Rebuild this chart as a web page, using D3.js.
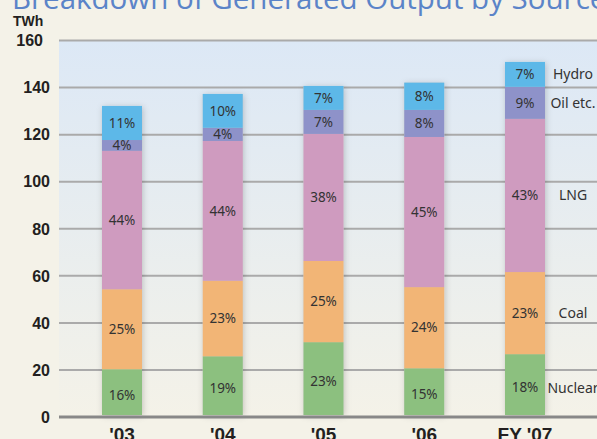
<!DOCTYPE html>
<html>
<head>
<meta charset="utf-8">
<script src="https://cdn.jsdelivr.net/npm/d3@7"></script>
<style>
  body { margin: 0; background: #f4f2e8; }
  svg { display: block; }
</style>
</head>
<body>
<svg id="chart" width="597" height="439"></svg>
<script>
var years = ["'03", "'04", "'05", "'06", "FY '07"];
var sources = ["Nuclear", "Coal", "LNG", "Oil etc.", "Hydro"];
var nuclear = [20.3, 25.8, 31.8, 20.7, 26.7];
var coal = [34.0, 32.1, 34.5, 34.5, 34.9];
var lng = [58.8, 59.4, 54.0, 63.8, 65.1];
var oil = [4.6, 5.6, 10.2, 11.5, 13.6];
var hydro = [14.5, 14.4, 10.2, 11.6, 10.6];
var nuclearPct = ["16%", "19%", "23%", "15%", "18%"];
var coalPct = ["25%", "23%", "25%", "24%", "23%"];
var lngPct = ["44%", "44%", "38%", "45%", "43%"];
var oilPct = ["4%", "4%", "7%", "8%", "9%"];
var hydroPct = ["11%", "10%", "7%", "8%", "7%"];
var yTicks = [0, 20, 40, 60, 80, 100, 120, 140, 160];

var colors = ["#8cc07f", "#f2b576", "#cf9bbf", "#8e92c9", "#5db8e8"];
var series = [nuclear, coal, lng, oil, hydro];
var pcts = [nuclearPct, coalPct, lngPct, oilPct, hydroPct];

var rows = years.map((yr, i) => {
    var r = { year: yr };
    sources.forEach((s, j) => { r[s] = series[j][i]; r[s + '_pct'] = pcts[j][i]; });
    return r;
});

var svg = d3.select('#chart');
var plotLeft = 59, plotRight = 597, plotTop = 40.5, plotBottom = 417;

var y = d3.scaleLinear().domain([0, 160]).range([plotBottom, plotTop]);
var x = d3.scalePoint().domain(years).range([122, 525]);
var barW = 40;

var defs = svg.append('defs');
var grad = defs.append('linearGradient')
    .attr('id', 'bg').attr('x1', 0).attr('y1', 0).attr('x2', 0).attr('y2', 1);
grad.append('stop').attr('offset', '0%').attr('stop-color', '#dce8f6');
grad.append('stop').attr('offset', '100%').attr('stop-color', '#f4f2e8');

var shadow = defs.append('filter').attr('id', 'shadow')
    .attr('x', '-30%').attr('y', '-10%').attr('width', '160%').attr('height', '120%');
shadow.append('feDropShadow')
    .attr('dx', 1).attr('dy', 1).attr('stdDeviation', 3)
    .attr('flood-color', '#000').attr('flood-opacity', 0.2);

// title (cut off at the top)
svg.append('text')
    .attr('x', 12).attr('y', 9)
    .style('font-family', 'Open Sans, sans-serif')
    .style('font-size', '29.5px')
    .attr('fill', '#5b84c8')
    .text('Breakdown of Generated Output by Source');

svg.append('rect')
    .attr('x', plotLeft).attr('y', plotTop)
    .attr('width', plotRight - plotLeft).attr('height', plotBottom - plotTop)
    .attr('fill', 'url(#bg)');

svg.append('g')
    .selectAll('line')
    .data(yTicks.filter(d => d > 0))
    .enter()
    .append('line')
        .attr('x1', plotLeft).attr('x2', plotRight)
        .attr('y1', d => y(d)).attr('y2', d => y(d))
        .attr('stroke', '#aaaaaa')
        .attr('stroke-width', 2);

var stack = d3.stack().keys(sources)(rows);

var layers = svg.append('g').attr('class', 'bars');

// shadow under whole bar
layers.selectAll('.bar-shadow')
    .data(rows)
    .enter()
    .append('rect')
        .attr('class', 'bar-shadow')
        .attr('x', d => x(d.year) - barW / 2)
        .attr('width', barW)
        .attr('y', d => y(d3.sum(sources, s => d[s])))
        .attr('height', d => plotBottom - 2 - y(d3.sum(sources, s => d[s])))
        .attr('fill', '#ccc')
        .attr('filter', 'url(#shadow)');

stack.forEach((layer, j) => {
    layers.append('g')
        .selectAll('rect')
        .data(layer)
        .enter()
        .append('rect')
            .attr('x', d => x(d.data.year) - barW / 2)
            .attr('width', barW)
            .attr('y', d => y(d[1]))
            .attr('height', d => y(d[0]) - y(d[1]) - (j === 0 ? 2 : 0))
            .attr('fill', colors[j]);

    layers.append('g')
        .selectAll('text')
        .data(layer)
        .enter()
        .append('text')
            .attr('x', d => x(d.data.year))
            .attr('y', d => (y(d[0]) + y(d[1])) / 2 + (j === 0 ? 2 : 0))
            .attr('dy', '0.35em')
            .style('text-anchor', 'middle')
            .style('font-family', 'Noto Sans, sans-serif')
            .style('font-size', '13.5px')
            .attr('fill', '#333')
            .text(d => d.data[sources[j] + '_pct']);

    // legend next to the last bar
    var last = layer[layer.length - 1];
    svg.append('text')
        .attr('x', 573)
        .attr('y', (y(last[0]) + y(last[1])) / 2 + (j === 0 ? 3 : 0))
        .attr('dy', '0.35em')
        .style('text-anchor', 'middle')
        .style('font-family', 'Noto Sans, sans-serif')
        .style('font-size', '14px')
        .attr('fill', '#333')
        .text(sources[j]);
});

// baseline
svg.append('line')
    .attr('x1', plotLeft).attr('x2', plotRight)
    .attr('y1', plotBottom).attr('y2', plotBottom)
    .attr('stroke', '#888')
    .attr('stroke-width', 3);

// y labels
svg.append('g')
    .selectAll('text')
    .data(yTicks)
    .enter()
    .append('text')
        .attr('x', d => d === 160 ? 43 : 50)
        .attr('y', d => y(d))
        .attr('dy', '0.36em')
        .style('text-anchor', 'end')
        .style('font-family', 'Liberation Sans, sans-serif')
        .style('font-weight', 'bold')
        .style('font-size', '16px')
        .attr('fill', '#231f20')
        .text(d => d);

svg.append('text')
    .attr('x', 13).attr('y', 26)
    .style('font-family', 'Liberation Sans, sans-serif')
    .style('font-weight', 'bold')
    .style('font-size', '14px')
    .attr('fill', '#231f20')
    .text('TWh');

// x labels
svg.append('g')
    .selectAll('text')
    .data(years)
    .enter()
    .append('text')
        .attr('x', d => x(d))
        .attr('y', 441)
        .style('text-anchor', 'middle')
        .style('font-family', 'Liberation Sans, sans-serif')
        .style('font-weight', 'bold')
        .style('font-size', '19px')
        .attr('fill', '#231f20')
        .text(d => d);
</script>
</body>
</html>
